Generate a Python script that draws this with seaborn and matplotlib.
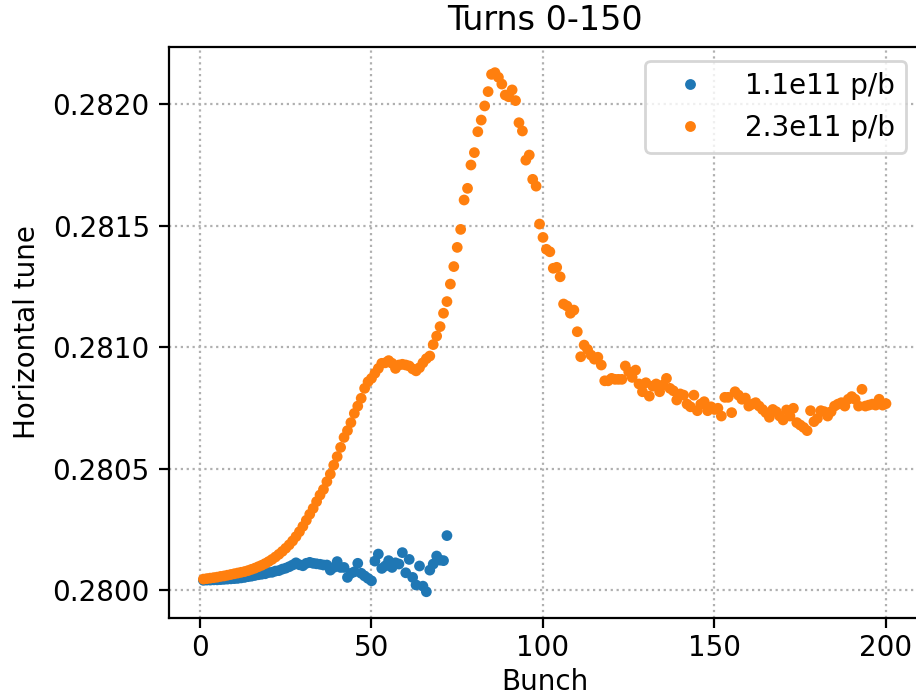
import numpy as np
import pandas as pd
import matplotlib
matplotlib.use("Agg")
import matplotlib.pyplot as plt
import seaborn as sns
from matplotlib.lines import Line2D
from matplotlib.ticker import FormatStrFormatter

plt.rcParams.update({"font.family": ["DejaVu Sans"], "font.size": 10})

# ---- data ----
series_labels = ["1.1e11 p/b", "2.3e11 p/b"]
series_colors = ["#1f77b4", "#ff7f0e"]

bunch_low = list(range(1, 73))
tune_low = [
    0.280040, 0.280041, 0.280041, 0.280042, 0.280042, 0.280043, 0.280044, 0.280045, 0.280046, 0.280047,
    0.280048, 0.280050, 0.280052, 0.280055, 0.280057, 0.280060, 0.280063, 0.280065, 0.280067, 0.280072,
    0.280073, 0.280078, 0.280080, 0.280086, 0.280090, 0.280096, 0.280103, 0.280112, 0.280104, 0.280100,
    0.280110, 0.280114, 0.280110, 0.280108, 0.280106, 0.280103, 0.280103, 0.280082, 0.280093, 0.280117,
    0.280093, 0.280093, 0.280052, 0.280069, 0.280075, 0.280110, 0.280069, 0.280058, 0.280048, 0.280038,
    0.280119, 0.280148, 0.280089, 0.280099, 0.280121, 0.280093, 0.280112, 0.280107, 0.280154, 0.280071,
    0.280126, 0.280052, 0.280021, 0.280099, 0.280016, 0.279993, 0.280082, 0.280107, 0.280140, 0.280123,
    0.280121, 0.280224,
]

bunch_high = list(range(1, 201))
tune_high = [
    0.280045, 0.280047, 0.280049, 0.280051, 0.280053, 0.280056, 0.280058, 0.280061, 0.280064, 0.280067,
    0.280070, 0.280073, 0.280076, 0.280080, 0.280085, 0.280090, 0.280096, 0.280102, 0.280109, 0.280117,
    0.280126, 0.280136, 0.280147, 0.280159, 0.280172, 0.280186, 0.280202, 0.280220, 0.280240, 0.280262,
    0.280287, 0.280312, 0.280336, 0.280364, 0.280391, 0.280414, 0.280446, 0.280477, 0.280514, 0.280549,
    0.280587, 0.280628, 0.280656, 0.280689, 0.280727, 0.280757, 0.280789, 0.280830, 0.280857, 0.280871,
    0.280892, 0.280912, 0.280933, 0.280935, 0.280944, 0.280933, 0.280912, 0.280926, 0.280929, 0.280926,
    0.280922, 0.280910, 0.280902, 0.280915, 0.280935, 0.280952, 0.280963, 0.281010, 0.281045, 0.281084,
    0.281139, 0.281187, 0.281259, 0.281331, 0.281410, 0.281484, 0.281605, 0.281653, 0.281749, 0.281800,
    0.281886, 0.281934, 0.281992, 0.282051, 0.282122, 0.282129, 0.282110, 0.282082, 0.282037, 0.282030,
    0.282058, 0.282014, 0.281923, 0.281889, 0.281769, 0.281790, 0.281690, 0.281662, 0.281506, 0.281451,
    0.281402, 0.281392, 0.281324, 0.281328, 0.281289, 0.281177, 0.281169, 0.281139, 0.281152, 0.281063,
    0.280960, 0.281008, 0.280990, 0.280967, 0.280950, 0.280958, 0.280926, 0.280861, 0.280861, 0.280871,
    0.280867, 0.280867, 0.280867, 0.280922, 0.280898, 0.280875, 0.280905, 0.280848, 0.280816, 0.280853,
    0.280798, 0.280839, 0.280848, 0.280816, 0.280844, 0.280871, 0.280830, 0.280820, 0.280782, 0.280807,
    0.280802, 0.280765, 0.280754, 0.280802, 0.280738, 0.280765, 0.280775, 0.280738, 0.280754, 0.280743,
    0.280748, 0.280716, 0.280793, 0.280793, 0.280730, 0.280816, 0.280802, 0.280785, 0.280790, 0.280757,
    0.280765, 0.280771, 0.280757, 0.280743, 0.280730, 0.280711, 0.280743, 0.280734, 0.280716, 0.280700,
    0.280741, 0.280716, 0.280748, 0.280689, 0.280679, 0.280669, 0.280656, 0.280738, 0.280693, 0.280706,
    0.280738, 0.280734, 0.280716, 0.280734, 0.280757, 0.280765, 0.280771, 0.280757, 0.280785, 0.280796,
    0.280785, 0.280757, 0.280826, 0.280757, 0.280761, 0.280765, 0.280761, 0.280785, 0.280761, 0.280767,
]

x_ticks = [0, 50, 100, 150, 200]
y_ticks = [0.2800, 0.2805, 0.2810, 0.2815, 0.2820]

df = pd.concat([
    pd.DataFrame({"Bunch": bunch_low, "tune": tune_low, "series": series_labels[0]}),
    pd.DataFrame({"Bunch": bunch_high, "tune": tune_high, "series": series_labels[1]}),
], ignore_index=True)

fig = plt.figure(figsize=(4.58, 3.48), dpi=200)
ax = fig.add_axes([0.1848, 0.1125, 0.8197, 0.8204])

sns.scatterplot(data=df, x="Bunch", y="tune", hue="series",
                palette=series_colors, hue_order=series_labels,
                s=15, linewidth=0, ax=ax, legend=False, zorder=2)

ax.grid(True, linestyle=":", color="#b0b0b0", linewidth=0.8)
ax.set_axisbelow(True)
ax.set_xticks(x_ticks)
ax.set_yticks(y_ticks)
ax.yaxis.set_major_formatter(FormatStrFormatter("%.4f"))
ax.tick_params(axis="x", pad=2.5)
ax.set_xlabel("Bunch", labelpad=2)
ax.set_ylabel("Horizontal tune")
ax.set_title("Turns 0-150", fontsize=12)

handles = [Line2D([], [], marker="o", linestyle="", markersize=3.9,
                  markeredgewidth=0, color=c) for c in series_colors]
ax.legend(handles, series_labels, loc="upper right", handlelength=2.4)

fig.savefig("out.png", dpi=200)
